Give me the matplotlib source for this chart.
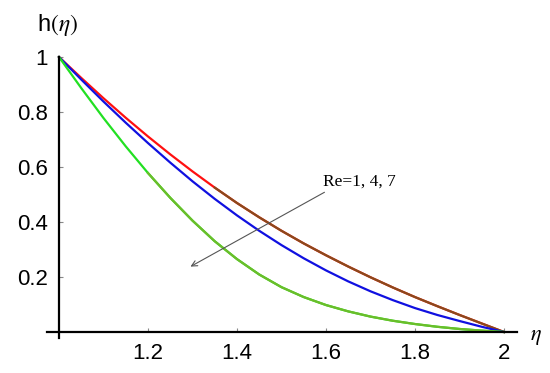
import matplotlib
matplotlib.use("Agg")
import matplotlib.pyplot as plt
import numpy as np

plt.rcParams['font.family'] = ['Liberation Sans', 'DejaVu Sans']
plt.rcParams['mathtext.fontset'] = 'stix'

# eta values (step 0.05)
eta = [1.00, 1.05, 1.10, 1.15, 1.20, 1.25, 1.30, 1.35, 1.40, 1.45, 1.50,
       1.55, 1.60, 1.65, 1.70, 1.75, 1.80, 1.85, 1.90, 1.95, 2.00]

# h(eta) for Re = 1, 4, 7
h_re1 = [1.0, 0.924, 0.850, 0.779, 0.711, 0.646, 0.584, 0.525, 0.469, 0.417, 0.368,
         0.322, 0.279, 0.238, 0.199, 0.162, 0.127, 0.094, 0.062, 0.031, 0.0]
h_re4 = [1.0, 0.918, 0.838, 0.761, 0.687, 0.616, 0.548, 0.484, 0.424, 0.368, 0.316,
         0.268, 0.224, 0.184, 0.148, 0.116, 0.087, 0.062, 0.040, 0.019, 0.0]
h_re7 = [1.0, 0.887, 0.778, 0.675, 0.578, 0.488, 0.405, 0.330, 0.265, 0.209, 0.163,
         0.127, 0.098, 0.075, 0.056, 0.041, 0.029, 0.019, 0.011, 0.005, 0.0]

xticks = [1.2, 1.4, 1.6, 1.8, 2.0]
xticklabels = ['1.2', '1.4', '1.6', '1.8', '2']
yticks = [0.2, 0.4, 0.6, 0.8, 1.0]
yticklabels = ['0.2', '0.4', '0.6', '0.8', '1']

fig = plt.figure(figsize=(5.5, 3.73), dpi=100)
ax = fig.add_axes([47 / 550, 1 - 338 / 373, 470 / 550, 281 / 373])

x = np.array(eta)
lw = 1.6
# curves change tint part way along (as in the original)
r = np.array(h_re1)
b = np.array(h_re4)
g = np.array(h_re7)
ax.plot(x, r, color='#ff1010', lw=lw, clip_on=False)
ax.plot(x[x >= 1.35], r[x >= 1.35], color='#8a4a1c', lw=lw, clip_on=False)
ax.plot(x, b, color='#1010e0', lw=lw, clip_on=False)
ax.plot(x, g, color='#22e022', lw=lw, clip_on=False)
ax.plot(x[x >= 1.2], g[x >= 1.2], color='#6cbd2a', lw=lw, clip_on=False)

ax.set_xlim(1 - 12 / 445, 1 + 458 / 445)
ax.set_ylim(-6 / 275, 1.0)

for s in ['top', 'right']:
    ax.spines[s].set_visible(False)
ax.spines['left'].set_position(('data', 1))
ax.spines['bottom'].set_position(('data', 0))
ax.spines['left'].set_linewidth(1.6)
ax.spines['bottom'].set_linewidth(1.6)

ax.set_xticks(xticks)
ax.set_xticklabels(xticklabels)
ax.set_yticks(yticks)
ax.set_yticklabels(yticklabels)
ax.tick_params(direction='in', length=3, width=0.8, color='#888888',
               labelsize=16, pad=8)

# annotation
ax.text(1.593, 0.548, 'Re=1, 4, 7', family='Liberation Serif', fontsize=12.5,
        ha='left', va='center')
ax.annotate('', xy=(1.29, 0.233), xytext=(1.602, 0.513),
            arrowprops=dict(arrowstyle='->', color='#555555', lw=0.8))

# axis labels
fig.text(37 / 550, 1 - 31 / 373, r'h$(\eta)$', fontsize=17, va='baseline')
fig.text(530 / 550, 1 - 340 / 373, r'$\eta$', fontsize=16, va='baseline')

fig.savefig('out.png', dpi=100)
